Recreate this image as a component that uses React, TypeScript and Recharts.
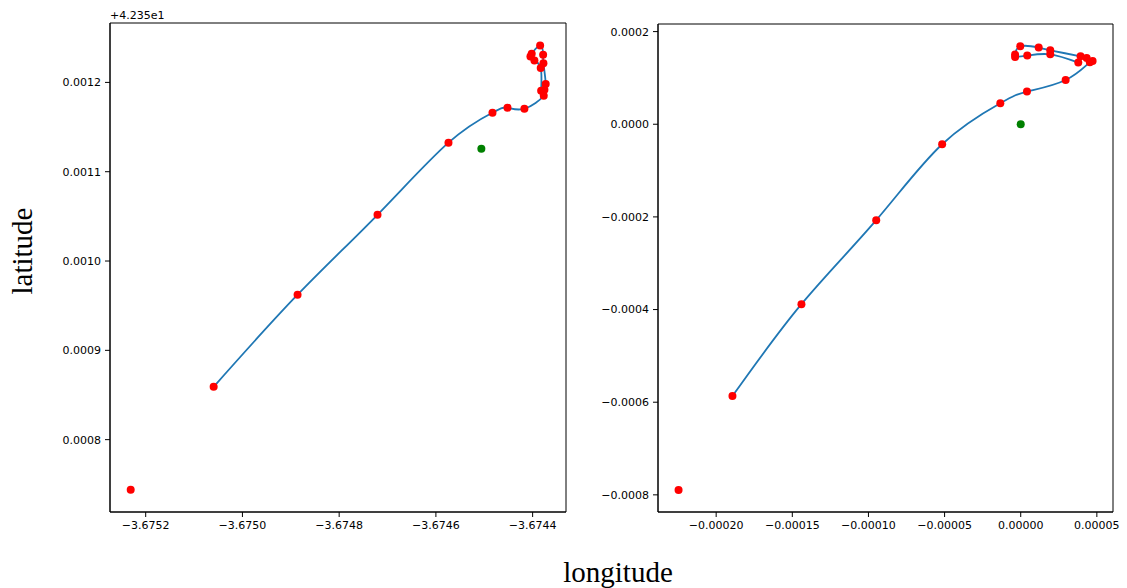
import { ScatterChart, Scatter, XAxis, YAxis, ReferenceArea } from "recharts";

// left panel: raw longitude / latitude (latitude shown relative to 42.35)
const LAT_OFFSET_LABEL = "+4.235e1";
const LEFT_LON = [
  -3.675231, -3.6750595, -3.674886, -3.6747207, -3.674574, -3.674483, -3.674452, -3.674417,
  -3.674377, -3.6743756, -3.674373, -3.6743777, -3.6743783, -3.6743845, -3.6744019, -3.6744045,
  -3.6743963, -3.6743833, -3.6743824,
];
const LEFT_LAT = [
  0.000744, 0.0008592, 0.0009623, 0.0010518, 0.0011325, 0.0011661, 0.0011717, 0.0011705,
  0.0011851, 0.0011918, 0.0011982, 0.0012213, 0.001231, 0.0012414, 0.0012321, 0.0012291,
  0.0012246, 0.0012161, 0.0011907,
];
const LEFT_ORIGIN = { x: -3.674506, y: 0.0011258 };

// right panel: positions relative to the origin
const RIGHT_X = [
  -0.0002247, -0.0001893, -0.000144, -0.0000949, -0.0000516, -0.0000134, 0.0000041, 0.0000295,
  0.0000454, 0.0000472, 0.0000433, 0.0000393, 0.0000194, 0.0000118, -0.0000003, -0.0000037,
  -0.0000037, 0.0000043, 0.0000194, 0.0000378,
];
const RIGHT_Y = [
  -0.0007896, -0.0005868, -0.0003883, -0.0002071, -0.0000432, 0.0000453, 0.0000706, 0.0000956,
  0.0001338, 0.0001366, 0.000143, 0.0001467, 0.0001597, 0.0001655, 0.0001683, 0.0001504,
  0.0001452, 0.0001482, 0.000151, 0.0001331,
];
const RIGHT_ORIGIN = { x: 0, y: 0 };

const LEFT_X_TICKS = [-3.6752, -3.675, -3.6748, -3.6746, -3.6744];
const LEFT_Y_TICKS = [0.0008, 0.0009, 0.001, 0.0011, 0.0012];
const RIGHT_X_TICKS = [-0.0002, -0.00015, -0.0001, -0.00005, 0, 0.00005];
const RIGHT_Y_TICKS = [-0.0008, -0.0006, -0.0004, -0.0002, 0, 0.0002];

const LEFT_X_DOMAIN = [-3.6752738, -3.674331];
const LEFT_Y_DOMAIN = [0.000719, 0.0012665];
const RIGHT_X_DOMAIN = [-0.0002382, 0.0000606];
const RIGHT_Y_DOMAIN = [-0.000837, 0.0002164];

const tickFont = { fill: "#000", fontSize: 11, fontFamily: "DejaVu Sans" };

const fmt = (digits: number) => (v: number) => {
  const s = Math.abs(v) < 1e-12 ? (0).toFixed(digits) : v.toFixed(digits);
  return s.replace("-", "\u2212");
};

const dot = (color: string) => (p: any) => <circle cx={p.cx} cy={p.cy} r={4} fill={color} />;

function Panel({ lon, lat, origin, xTicks, yTicks, xDomain, yDomain, xDigits, yDigits, width, height, margin, yWidth }: any) {
  const pts = lon.map((x: number, i: number) => ({ x, y: lat[i] }));
  const linePts = pts.slice(1);
  return (
    <ScatterChart width={width} height={height} margin={margin}>
      <XAxis type="number" dataKey="x" domain={xDomain} ticks={xTicks} interval={0} allowDataOverflow
        tickFormatter={fmt(xDigits)} tick={tickFont} tickSize={5} tickMargin={4} height={25}
        axisLine={{ stroke: "#000" }} tickLine={{ stroke: "#000" }} />
      <YAxis type="number" dataKey="y" domain={yDomain} ticks={yTicks} interval={0} allowDataOverflow
        tickFormatter={fmt(yDigits)} tick={tickFont} tickSize={5} tickMargin={4} width={yWidth}
        axisLine={{ stroke: "#000" }} tickLine={{ stroke: "#000" }} />
      <ReferenceArea x1={xDomain[0]} x2={xDomain[1]} y1={yDomain[0]} y2={yDomain[1]}
        fill="none" fillOpacity={0} stroke="#000" strokeWidth={1} strokeOpacity={1} />
      <Scatter data={linePts} line={{ stroke: "#1f77b4", strokeWidth: 1.8 }} lineType="joint"
        lineJointType="natural" shape={() => <g />} fill="#1f77b4" isAnimationActive={false} />
      <Scatter data={pts} shape={dot("#ff0000")} fill="#ff0000" isAnimationActive={false} />
      <Scatter data={[origin]} shape={dot("#008000")} fill="#008000" isAnimationActive={false} />
    </ScatterChart>
  );
}

export default function App() {
  return (
    <div style={{ position: "absolute", left: 0, top: 0, width: 1127, height: 588, background: "#fff" }}>
      <div style={{ position: "absolute", left: 0, top: 0 }}>
        <Panel lon={LEFT_LON} lat={LEFT_LAT} origin={LEFT_ORIGIN} xTicks={LEFT_X_TICKS} yTicks={LEFT_Y_TICKS}
          xDomain={LEFT_X_DOMAIN} yDomain={LEFT_Y_DOMAIN} xDigits={4} yDigits={4}
          width={580} height={540} margin={{ top: 23, right: 14, bottom: 3, left: 10 }} yWidth={100} />
      </div>
      <div style={{ position: "absolute", left: 560, top: 0 }}>
        <Panel lon={RIGHT_X} lat={RIGHT_Y} origin={RIGHT_ORIGIN} xTicks={RIGHT_X_TICKS} yTicks={RIGHT_Y_TICKS}
          xDomain={RIGHT_X_DOMAIN} yDomain={RIGHT_Y_DOMAIN} xDigits={5} yDigits={4}
          width={567} height={540} margin={{ top: 24, right: 14, bottom: 3, left: 0 }} yWidth={98} />
      </div>
      <div style={{ position: "absolute", left: 110, top: 9, fontFamily: "DejaVu Sans", fontSize: 11, color: "#000" }}>
        {LAT_OFFSET_LABEL}
      </div>
      <div style={{ position: "absolute", left: 618, top: 572, transform: "translate(-50%, -50%)",
        fontFamily: "Liberation Serif", fontSize: 29, color: "#000" }}>
        longitude
      </div>
      <div style={{ position: "absolute", left: 22, top: 251, transform: "translate(-50%, -50%) rotate(-90deg)",
        fontFamily: "Liberation Serif", fontSize: 29, color: "#000", whiteSpace: "nowrap" }}>
        latitude
      </div>
    </div>
  );
}
